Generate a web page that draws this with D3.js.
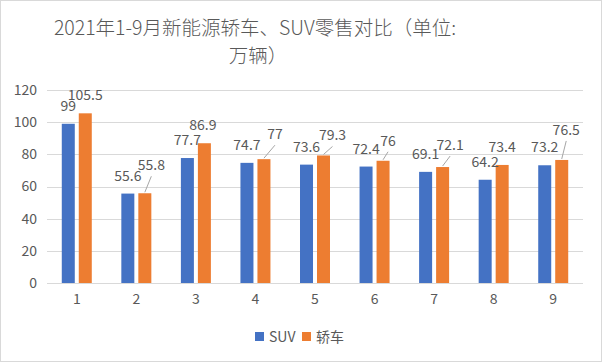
<!DOCTYPE html>
<html>
<head>
<meta charset="utf-8">
<script src="https://cdn.jsdelivr.net/npm/d3@7"></script>
<style>
  body { margin: 0; background: #fff; }
  text { font-family: "Noto Sans CJK SC", "Noto Sans", sans-serif; fill: #595959; }
</style>
</head>
<body>
<div id="chart"></div>
<script>
// chart data
var months = ["1", "2", "3", "4", "5", "6", "7", "8", "9"];
var seriesNames = ["SUV", "轿车"];
var suvValues = [99, 55.6, 77.7, 74.7, 73.6, 72.4, 69.1, 64.2, 73.2];
var sedanValues = [105.5, 55.8, 86.9, 77, 79.3, 76, 72.1, 73.4, 76.5];
var yTicks = [0, 20, 40, 60, 80, 100, 120];

// label nudges for the sedan labels (the way excel pushed them aside)
var sedanLabelNudge = [[0, 0], [6.5, -10], [-1.5, 0], [11, -7], [9, -2], [5, -2], [7.5, -4], [0, 0], [4.5, -12]];

var svgWidth = 602;
var svgHeight = 362;
var colors = ["#4472C4", "#ED7D31"];

var svg = d3.select("#chart")
  .append("svg")
  .attr("width", svgWidth)
  .attr("height", svgHeight);

// outer frame
svg.append("rect")
  .attr("x", 0.5).attr("y", 0.5)
  .attr("width", svgWidth - 1).attr("height", svgHeight - 1)
  .attr("fill", "#fff")
  .attr("stroke", "#D9D9D9");

// title on two lines
var title = svg.append("text")
  .attr("text-anchor", "middle")
  .attr("font-size", "19.5px")
  .attr("font-weight", 300)
  .attr("fill", "#666");
title.append("tspan").attr("x", 255).attr("y", 35).text("2021年1-9月新能源轿车、SUV零售对比（单位:");
title.append("tspan").attr("x", 258).attr("y", 63).text("万辆）");

var x0 = d3.scaleBand()
  .domain(months)
  .range([47, 583]);

var x1 = d3.scaleBand()
  .domain(seriesNames)
  .range([0, 30])
  .paddingInner(0.235);

var groupOffset = (x0.bandwidth() - 30) / 2;

var y = d3.scaleLinear()
  .domain([0, 120])
  .range([283, 90]);

// gridlines
svg.append("g")
  .selectAll("line")
  .data(yTicks)
  .enter()
  .append("line")
  .attr("x1", 47).attr("x2", 583)
  .attr("y1", d => Math.round(y(d)) + 0.5)
  .attr("y2", d => Math.round(y(d)) + 0.5)
  .attr("stroke", "#D9D9D9")
  .attr("stroke-width", 1);

// y axis labels
var leftAxis = d3.axisLeft(y).tickValues(yTicks).tickSize(0).tickPadding(0);
var yAxis = svg.append("g")
  .attr("transform", "translate(37,0)")
  .call(leftAxis);
yAxis.select(".domain").remove();
yAxis.selectAll("text").attr("font-size", "14px").attr("fill", "#595959").attr("font-family", null);

// x axis labels
var bottomAxis = d3.axisBottom(x0).tickSize(0).tickPadding(0);
var xAxis = svg.append("g")
  .attr("transform", "translate(0,294)")
  .call(bottomAxis);
xAxis.select(".domain").remove();
xAxis.selectAll("text").attr("font-size", "14px").attr("fill", "#595959").attr("font-family", null);

var allSeries = [suvValues, sedanValues];

var rows = [];
months.forEach(function (m, i) {
  allSeries.forEach(function (vals, s) {
    var nudge = s === 1 ? sedanLabelNudge[i] : [0, 0];
    rows.push({ month: m, series: seriesNames[s], s: s, value: vals[i], dx: nudge[0], dy: nudge[1] });
  });
});

function barCenter(d) {
  return x0(d.month) + groupOffset + x1(d.series) + x1.bandwidth() / 2;
}

// bars
svg.append("g")
  .selectAll("rect")
  .data(rows)
  .enter()
  .append("rect")
  .attr("x", d => x0(d.month) + groupOffset + x1(d.series))
  .attr("y", d => y(d.value))
  .attr("width", x1.bandwidth())
  .attr("height", d => y(0) - y(d.value))
  .attr("fill", d => colors[d.s]);

// leader lines
svg.append("g")
  .selectAll("line")
  .data(rows.filter(d => d.dy < -1))
  .enter()
  .append("line")
  .attr("x1", d => barCenter(d))
  .attr("y1", d => y(d.value) - 1)
  .attr("x2", d => barCenter(d) + d.dx)
  .attr("y2", d => y(d.value) - 13 + d.dy + 6)
  .attr("stroke", "#A6A6A6")
  .attr("stroke-width", 1);

// data labels
svg.append("g")
  .selectAll("text")
  .data(rows)
  .enter()
  .append("text")
  .attr("x", d => barCenter(d) + d.dx)
  .attr("y", d => y(d.value) - 13 + d.dy)
  .attr("text-anchor", "middle")
  .attr("font-size", "14px")
  .text(d => d.value);

// legend
var legend = svg.append("g").attr("transform", "translate(255,332)");
var legendX = [0, 47];
seriesNames.forEach(function (name, i) {
  legend.append("rect")
    .attr("x", legendX[i]).attr("y", 0)
    .attr("width", 9).attr("height", 9)
    .attr("fill", colors[i]);
  legend.append("text")
    .attr("x", legendX[i] + 14)
    .attr("y", 10)
    .attr("font-size", "14px")
    .text(name);
});
</script>
</body>
</html>
